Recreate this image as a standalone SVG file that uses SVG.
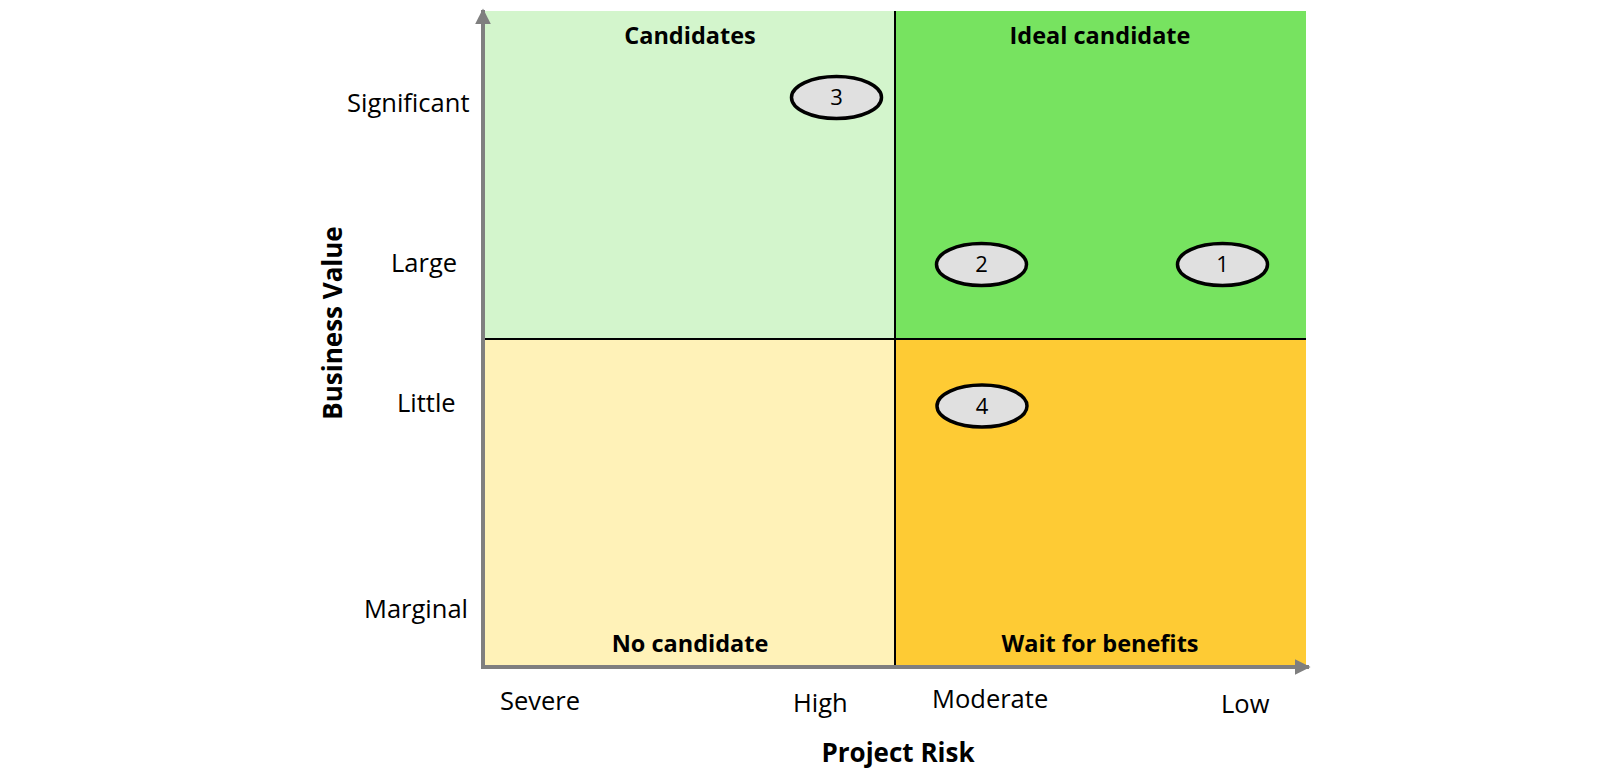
<svg xmlns="http://www.w3.org/2000/svg" width="1600" height="778" viewBox="0 0 1600 778">
<style>
.lbl{font-family:"Open Sans","Noto Sans",sans-serif;font-size:25.5px;fill:#000}
.ttl{font-family:"Open Sans","Noto Sans",sans-serif;font-size:23.5px;font-weight:bold;fill:#000;text-anchor:middle}
.ax{font-family:"Open Sans","Noto Sans",sans-serif;font-size:26px;font-weight:bold;fill:#000;text-anchor:middle}
.num{font-family:"Open Sans","Noto Sans",sans-serif;font-size:22px;fill:#000;text-anchor:middle}
.bub{fill:#e0e0e0;stroke:#000;stroke-width:3.5}
.axis{stroke:#7f7f7f;stroke-width:4;fill:none}
.div{stroke:#000;stroke-width:2}
</style>
<defs>
<marker id="arr" viewBox="0 0 10 10" refX="9" refY="5" markerWidth="4" markerHeight="4" orient="auto" markerUnits="strokeWidth">
<path d="M0,0 L10,5 L0,10 Z" fill="#7f7f7f"/>
</marker>
</defs>
<rect width="1600" height="778" fill="#fff"/>
<g id="quadrants">
<rect x="485" y="11" width="410" height="328" fill="#d3f5cc"/>
<rect x="895" y="11" width="411" height="328" fill="#77e360"/>
<rect x="485" y="339" width="410" height="326" fill="#fff2b8"/>
<rect x="895" y="339" width="411" height="326" fill="#fecb34"/>
<line class="div" x1="895" y1="11" x2="895" y2="665"/>
<line class="div" x1="485" y1="339" x2="1306" y2="339"/>
</g>
<g id="connectors">
<line class="axis" x1="483" y1="669" x2="483" y2="10" marker-end="url(#arr)"/>
<line class="axis" x1="481" y1="667" x2="1309" y2="667" marker-end="url(#arr)"/>
</g>
<g id="quadrant-titles">
<text class="ttl" x="690" y="44">Candidates</text>
<text class="ttl" x="1100" y="44">Ideal candidate</text>
<text class="ttl" x="690" y="652">No candidate</text>
<text class="ttl" x="1100" y="652">Wait for benefits</text>
</g>
<g id="y-labels">
<text class="lbl" x="347" y="112">Significant</text>
<text class="lbl" x="391" y="272">Large</text>
<text class="lbl" x="397" y="412">Little</text>
<text class="lbl" x="364" y="618">Marginal</text>
<text class="ax" transform="translate(342,323) rotate(-90)">Business Value</text>
</g>
<g id="x-labels">
<text class="lbl" x="500" y="710">Severe</text>
<text class="lbl" x="793" y="712">High</text>
<text class="lbl" x="932" y="708">Moderate</text>
<text class="lbl" x="1221" y="713">Low</text>
<text class="ax" x="898" y="762">Project Risk</text>
</g>
<g id="node-3">
<ellipse class="bub" cx="836.5" cy="97.5" rx="45" ry="21"/>
<text class="num" x="836.5" y="105">3</text>
</g>
<g id="node-2">
<ellipse class="bub" cx="981.5" cy="264.5" rx="45" ry="21"/>
<text class="num" x="981.5" y="272">2</text>
</g>
<g id="node-1">
<ellipse class="bub" cx="1222.5" cy="264.5" rx="45" ry="21"/>
<text class="num" x="1222.5" y="272">1</text>
</g>
<g id="node-4">
<ellipse class="bub" cx="982" cy="406" rx="45" ry="21"/>
<text class="num" x="982" y="413.5">4</text>
</g>
</svg>
